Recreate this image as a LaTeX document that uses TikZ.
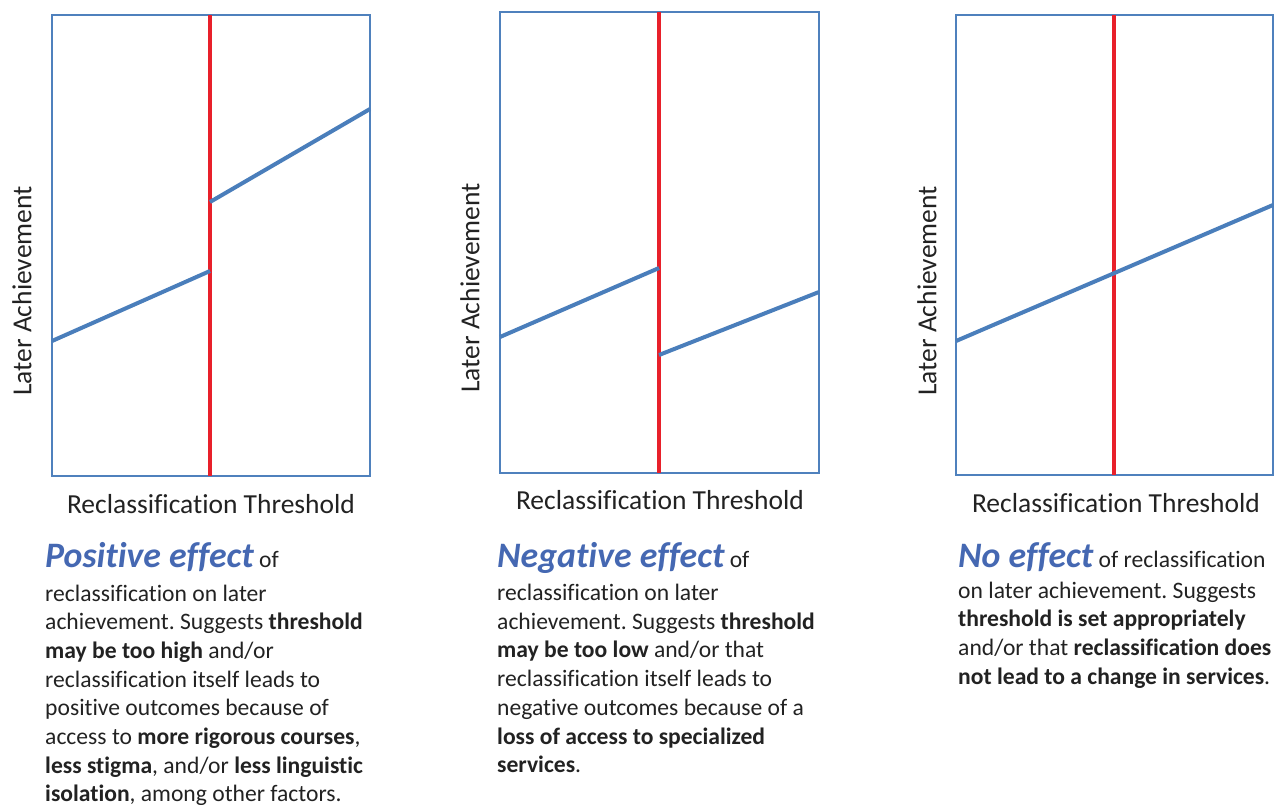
\documentclass[tikz,border=0pt]{standalone}
\usepackage{fontspec}
\setmainfont{Carlito}[Ligatures=NoCommon]
\frenchspacing
\definecolor{frameblue}{HTML}{4F81BD}
\definecolor{lineblue}{HTML}{4A7EBB}
\definecolor{redline}{HTML}{E8202A}
\definecolor{headblue}{HTML}{4568B2}
\definecolor{txt}{HTML}{222222}
\newcommand{\hd}[1]{{\fontsize{35.8}{38}\selectfont\bfseries\itshape\color{headblue}#1}}
\tikzset{
  frame/.style={draw=frameblue, line width=1.6pt},
  thresh/.style={draw=redline, line width=4pt},
  trend/.style={draw=lineblue, line width=4pt},
  axislabel/.style={font=\fontsize{27.5}{30}\selectfont, text=txt, inner sep=0pt},
  desc/.style={font=\fontsize{23.6}{28.7}\selectfont, text=txt, align=left, anchor=north west, inner sep=0pt},
}
\begin{document}
\begin{tikzpicture}[x=1pt,y=-1pt]
\useasboundingbox (0,0) rectangle (1278,804);
% Panel 1
\draw[frame] (52,15) rectangle (370,476);
\coordinate (p1top) at (210,15);
\coordinate (p1bot) at (210,476);
\draw[thresh] (p1top) -- (p1bot);
\coordinate (p1a) at (52,341);
\coordinate (p1b) at (210,271);
\coordinate (p1c) at (210,202);
\coordinate (p1d) at (370,109);
\draw[trend] (p1a) -- (p1b);
\draw[trend] (p1c) -- (p1d);
\node[axislabel, rotate=90] (y1) at (22,291) {Later Achievement};
\node[axislabel] (x1) at (211,504) {Reclassification Threshold};
\node[desc] (t1) at (45,542.5) {\hd{Positive effect} of\\[4.5pt]
reclassification on later\\
achievement. Suggests \textbf{threshold}\\
\textbf{may be too high} and/or\\
reclassification itself leads to\\
positive outcomes because of\\
access to \textbf{more rigorous courses},\\
\textbf{less stigma}, and/or \textbf{less linguistic}\\
\textbf{isolation}, among other factors.};
% Panel 2
\draw[frame] (500,12) rectangle (819,473);
\coordinate (p2top) at (659,12);
\coordinate (p2bot) at (659,473);
\draw[thresh] (p2top) -- (p2bot);
\coordinate (p2a) at (500,337);
\coordinate (p2b) at (659,268);
\coordinate (p2c) at (659,355);
\coordinate (p2d) at (819,292);
\draw[trend] (p2a) -- (p2b);
\draw[trend] (p2c) -- (p2d);
\node[axislabel, rotate=90] (y2) at (470,288) {Later Achievement};
\node[axislabel] (x2) at (660,500) {Reclassification Threshold};
\node[desc] (t2) at (497,542) {\hd{Negative effect} of\\[4.5pt]
reclassification on later\\
achievement. Suggests \textbf{threshold}\\
\textbf{may be too low} and/or that\\
reclassification itself leads to\\
negative outcomes because of a\\
\textbf{loss of access to specialized}\\
\textbf{services}.};
% Panel 3
\draw[frame] (956,15) rectangle (1273,475);
\coordinate (p3top) at (1114,15);
\coordinate (p3bot) at (1114,475);
\draw[thresh] (p3top) -- (p3bot);
\coordinate (p3a) at (956,341);
\coordinate (p3b) at (1273,205);
\draw[trend] (p3a) -- (p3b);
\node[axislabel, rotate=90] (y3) at (927,291) {Later Achievement};
\node[axislabel] (x3) at (1116,503) {Reclassification Threshold};
\node[desc] (t3) at (958,542) {\hd{No effect} of reclassification\\[2.5pt]
on later achievement. Suggests\\
\textbf{threshold is set appropriately}\\
and/or that \textbf{reclassification does}\\
\textbf{not lead to a change in services}.};
\end{tikzpicture}
\end{document}
